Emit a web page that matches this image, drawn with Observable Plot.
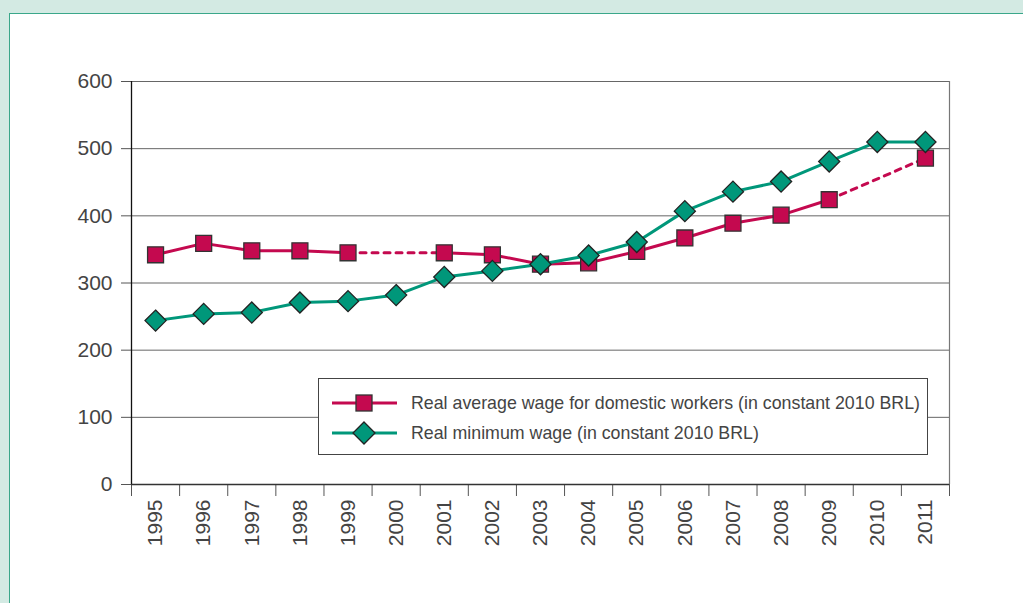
<!DOCTYPE html>
<html>
<head>
<meta charset="utf-8">
<script src="https://cdn.jsdelivr.net/npm/d3@7"></script>
<script src="https://cdn.jsdelivr.net/npm/@observablehq/plot@0.6"></script>
<style>
  html, body { margin: 0; padding: 0; }
  body { width: 1023px; height: 603px; background: #d3eae3; position: relative; overflow: hidden; font-family: "Liberation Sans", Arial, sans-serif; }
  #panel { position: absolute; left: 9px; top: 13px; width: 1100px; height: 700px; background: #fff; border: 1.5px solid #3aa78a; box-sizing: border-box; }
  #chart { position: absolute; left: 0; top: 0; }
  #legend { position: absolute; left: 318px; top: 378px; width: 610px; height: 77px; box-sizing: border-box; border: 1px solid #444; background: #fff; }
  .row { position: absolute; left: 12px; display: flex; align-items: center; font-size: 17.8px; color: #444; }
  .row svg { margin-right: 13px; }
</style>
</head>
<body>
<div id="panel"></div>
<div id="chart"></div>
<div id="legend"></div>
<script>
const years = [1995,1996,1997,1998,1999,2000,2001,2002,2003,2004,2005,2006,2007,2008,2009,2010,2011];
const domesticWage = [342,359,348,348,345,null,345,342,328,330,347,367,389,401,424,null,486];
const minimumWage = [244,254,256,271,273,282,309,318,328,341,361,407,436,451,481,510,510];
const yTicks = [0,100,200,300,400,500,600];
const seriesNames = ["Real average wage for domestic workers (in constant 2010 BRL)", "Real minimum wage (in constant 2010 BRL)"];
const colors = ["#c4094f", "#00977a"];

const dom = years.map((y, i) => ({year: y, value: domesticWage[i]}));
const mw = years.map((y, i) => ({year: y, value: minimumWage[i]}));
// dashed bridges across missing values
const bridges = [];
dom.forEach((d, i) => {
  if (d.value == null) {
    let a = i - 1, b = i + 1;
    while (a >= 0 && dom[a].value == null) a--;
    while (b < dom.length && dom[b].value == null) b++;
    if (a >= 0 && b < dom.length) bridges.push([dom[a], dom[b]]);
  }
});
const bridgeData = bridges.flatMap((p, k) => p.map(d => ({...d, seg: k})));
const edges = d3.range(years[0] - 0.5, years[years.length - 1] + 1, 1);

const plot = Plot.plot({
  width: 1023,
  height: 603,
  marginLeft: 131,
  marginRight: 74,
  marginTop: 81,
  marginBottom: 119,
  style: {background: "transparent", fontFamily: "'Liberation Sans', Arial, sans-serif", fontSize: "21px", color: "#444"},
  x: {domain: [years[0] - 0.5, years[years.length - 1] + 0.5]},
  y: {domain: [0, 600]},
  marks: [
    Plot.gridY(yTicks, {stroke: "#666", strokeOpacity: 1, strokeWidth: 1}),
    Plot.ruleX([years[years.length - 1] + 0.5], {stroke: "#777", strokeWidth: 1.2}),
    Plot.axisY(yTicks, {tickSize: 10, tickPadding: 9, stroke: "#555", fontSize: 21, fill: "#444", label: null}),
    Plot.axisX(edges, {tickSize: 12, tickFormat: () => "", stroke: "#555", label: null}),
    Plot.axisX(years, {tickSize: 0, tickPadding: 15, tickRotate: -90, tickFormat: d => String(d), fontSize: 21, fill: "#444", label: null}),
    Plot.ruleY([0], {stroke: "#333", strokeWidth: 1.3}),
    Plot.ruleX([years[0] - 0.5], {stroke: "#111", strokeWidth: 1.3}),
    Plot.line(dom, {x: "year", y: "value", stroke: colors[0], strokeWidth: 3}),
    Plot.line(bridgeData, {x: "year", y: "value", z: "seg", stroke: colors[0], strokeWidth: 3, strokeDasharray: "6,6"}),
    Plot.dot(dom.filter(d => d.value != null), {x: "year", y: "value", symbol: "square", r: 9, fill: colors[0], stroke: "#333", strokeWidth: 1.3}),
    Plot.line(mw, {x: "year", y: "value", stroke: colors[1], strokeWidth: 3}),
    Plot.dot(mw, {x: "year", y: "value", symbol: "diamond2", r: 9.5, fill: colors[1], stroke: "#222", strokeWidth: 1.3})
  ]
});
document.getElementById("chart").appendChild(plot);

const legend = document.getElementById("legend");
const shapes = [
  c => `<rect x="25" y="4" width="16" height="16" fill="${c}" stroke="#333" stroke-width="1.3"/>`,
  c => `<polygon points="33,1 44,12 33,23 22,12" fill="${c}" stroke="#222" stroke-width="1.3"/>`
];
seriesNames.forEach((name, i) => {
  const row = document.createElement("div");
  row.className = "row";
  row.style.top = (i === 0 ? 12 : 42) + "px";
  row.innerHTML = `<svg width="67" height="24"><line x1="1" x2="66" y1="12" y2="12" stroke="${colors[i]}" stroke-width="3"/>${shapes[i](colors[i])}</svg><span>${name}</span>`;
  legend.appendChild(row);
});
</script>
</body>
</html>
